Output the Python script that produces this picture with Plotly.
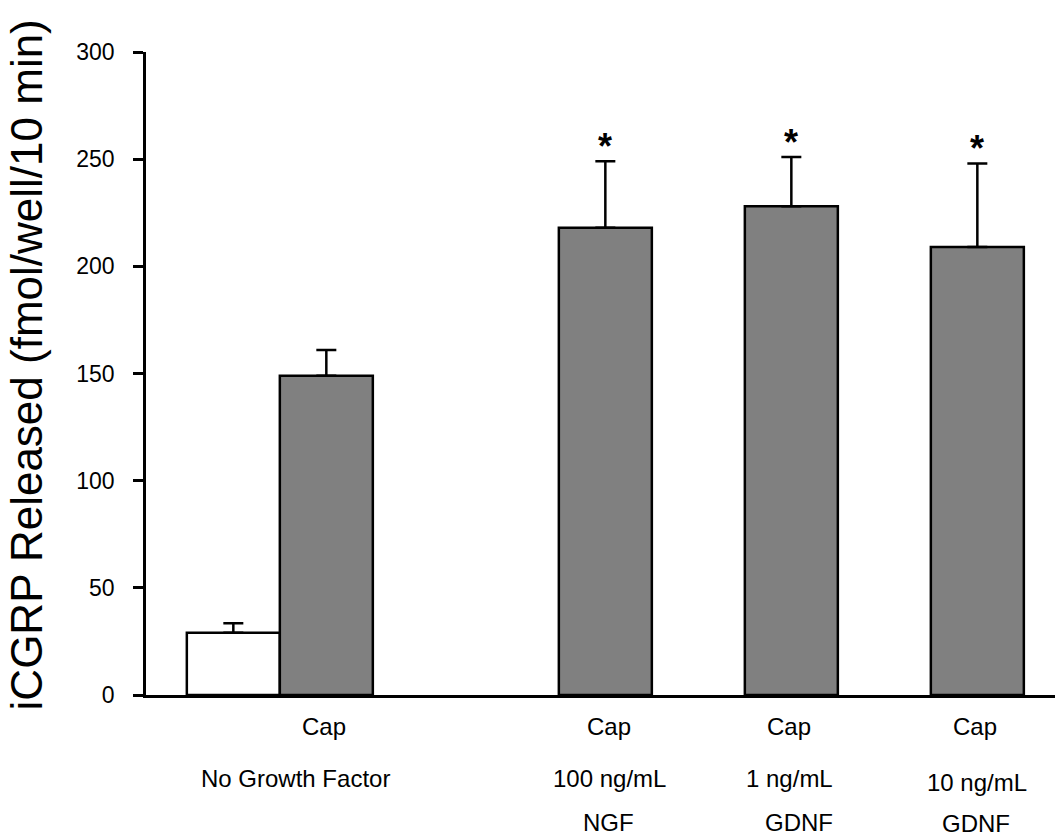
import plotly.graph_objects as go

# ---- data ----
groups = ["No Growth Factor", "100 ng/mL NGF", "1 ng/mL GDNF", "10 ng/mL GDNF"]
basal_value = [29]
basal_err = [4.5]
cap_values = [149, 218, 228, 209]
cap_errs = [12, 31, 23, 39]
significant = [False, True, True, True]
label_row1 = ["Cap", "Cap", "Cap", "Cap"]
label_row2 = ["No Growth Factor", "100 ng/mL", "1 ng/mL", "10 ng/mL"]
label_row3 = ["", "NGF", "GDNF", "GDNF"]
y_ticks = [0, 50, 100, 150, 200, 250, 300]

# ---- layout positions ----
basal_x = [0]
cap_x = [1, 4, 6, 8]
row1_x = [0.97, 4.04, 5.98, 7.98]
row2_x = [0.67, 4.05, 5.98, 8.0]
row3_x = [0, 4.03, 6.08, 7.99]
row_y = [-0.0497, -0.1305, -0.1985]   # paper units below the x axis
row2_drop = [0, 0, 0, 0.005]
row3_drop = [0, 0, 0, 0.002]

FONT = "Liberation Sans, Arial, sans-serif"
LBL = dict(family=FONT, size=24, color="black")

fig = go.Figure()
fig.add_trace(go.Bar(
    x=basal_x, y=basal_value, width=1,
    marker=dict(color="white", line=dict(color="black", width=2.5)),
    error_y=dict(type="data", array=basal_err, arrayminus=[0] * len(basal_err),
                 symmetric=False, color="black", thickness=2.5, width=10),
    showlegend=False, hoverinfo="skip",
))
fig.add_trace(go.Bar(
    x=cap_x, y=cap_values, width=1,
    marker=dict(color="#808080", line=dict(color="black", width=2.5)),
    error_y=dict(type="data", array=cap_errs, arrayminus=[0] * len(cap_errs),
                 symmetric=False, color="black", thickness=2.5, width=10),
    showlegend=False, hoverinfo="skip",
))

annotations = []
for i in range(len(groups)):
    rows = [(row1_x[i], row_y[0], label_row1[i]),
            (row2_x[i], row_y[1] - row2_drop[i], label_row2[i]),
            (row3_x[i], row_y[2] - row3_drop[i], label_row3[i])]
    for (ax, ay, txt) in rows:
        if txt:
            annotations.append(dict(x=ax, y=ay, text=txt, xref="x", yref="paper",
                                    showarrow=False, font=LBL,
                                    xanchor="center", yanchor="middle"))
    if significant[i]:
        annotations.append(dict(x=cap_x[i], y=cap_values[i] + cap_errs[i], text="<b>*</b>",
                                xref="x", yref="y", showarrow=False, yshift=-8,
                                font=dict(family=FONT, size=36, color="black"),
                                xanchor="center", yanchor="bottom"))

annotations.append(dict(x=-0.131, y=0.514, xref="paper", yref="paper",
                        text="iCGRP Released (fmol/well/10 min)", textangle=-90,
                        showarrow=False, font=dict(family=FONT, size=44, color="black"),
                        xanchor="center", yanchor="middle"))

fig.update_layout(
    width=1055, height=837,
    margin=dict(l=146, r=0, t=52, b=142),
    paper_bgcolor="white", plot_bgcolor="white",
    barmode="overlay",
    annotations=annotations,
    xaxis=dict(range=[-0.939, 8.835], showgrid=False, zeroline=False,
               showticklabels=False, ticks="", showline=True,
               linecolor="black", linewidth=2.5, fixedrange=True),
    yaxis=dict(range=[0, 300], tickvals=y_ticks, showgrid=False, zeroline=False,
               showline=True, linecolor="black", linewidth=2.5,
               ticks="outside", ticklen=10, tickwidth=2.5, tickcolor="black",
               tickfont=dict(family=FONT, size=23, color="black"),
               ticklabelstandoff=14, fixedrange=True),
)

fig.write_html("out.html")
